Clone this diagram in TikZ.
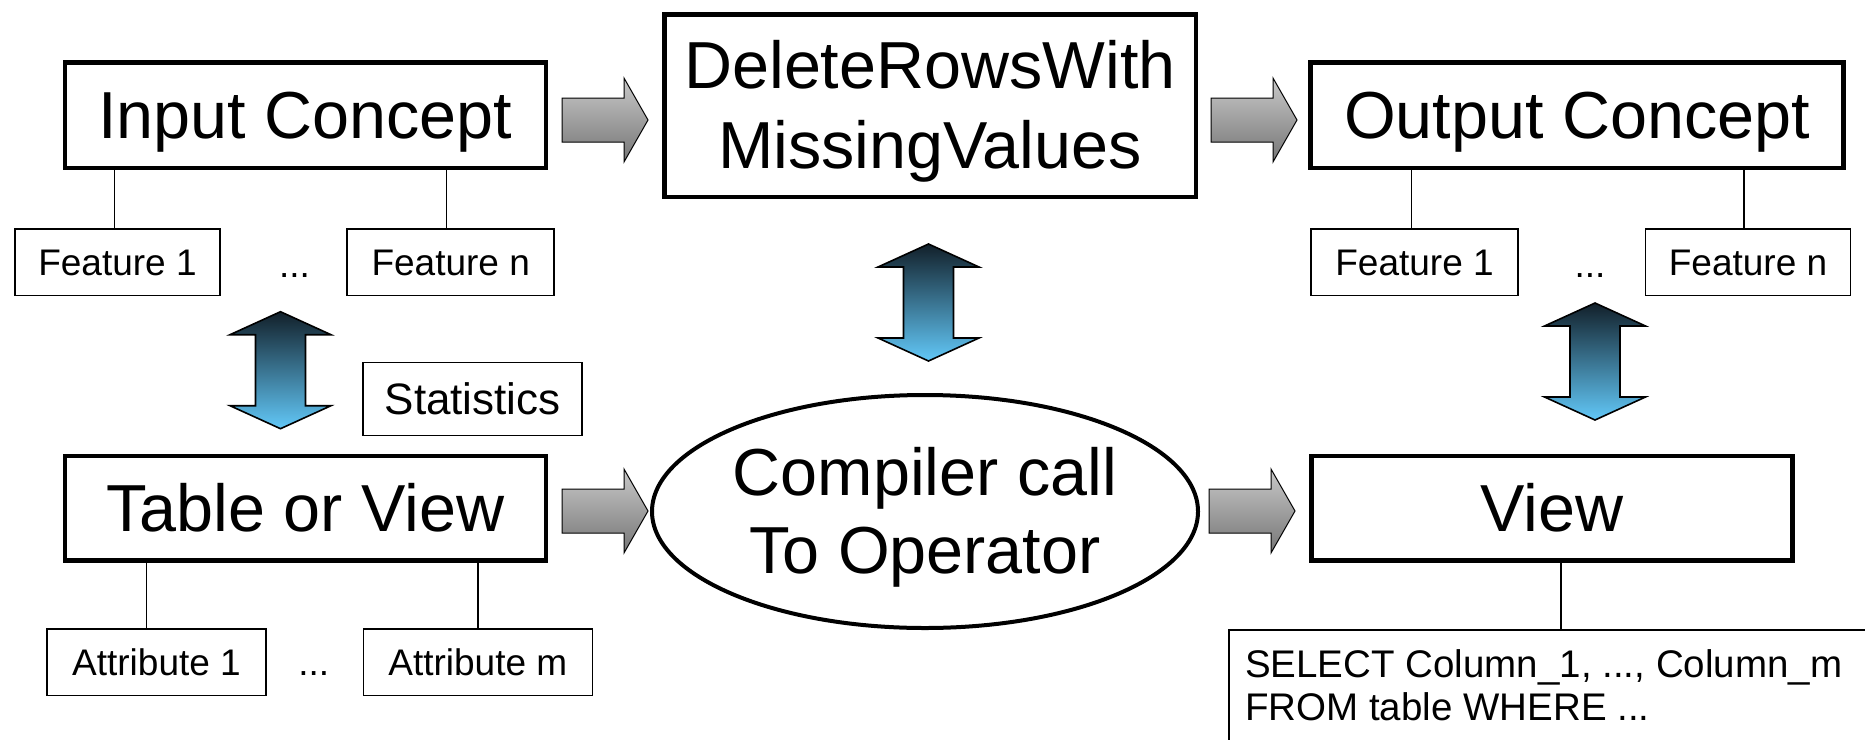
\documentclass[tikz,border=0pt]{standalone}
\usepackage{fontspec}
\setmainfont{Liberation Sans}
\usetikzlibrary{calc,shapes.geometric}

\definecolor{synctop}{RGB}{18,32,42}
\definecolor{syncbot}{RGB}{98,200,248}
\definecolor{flowtop}{RGB}{200,200,200}
\definecolor{flowbot}{RGB}{118,118,118}

\tikzset{
  mainbox/.style={draw, line width=4.5pt, inner sep=0pt, text height=47.5pt, text depth=0pt,
                  font=\fontsize{66.5}{78}\selectfont},
  subbox/.style={draw, line width=1.5pt, inner sep=0pt, minimum height=66.5pt,
                 text height=26.5pt, text depth=0pt, font=\fontsize{37}{44}\selectfont},
  bigtext/.style={inner sep=0pt, anchor=base, font=\fontsize{66.5}{78}\selectfont},
  dots/.style={inner sep=0pt, anchor=base, font=\fontsize{37}{44}\selectfont},
  seltext/.style={inner sep=0pt, anchor=base west, font=\fontsize{38.5}{46}\selectfont},
  link/.style={line width=1.5pt},
  flowarrow/.style={draw=black, line width=1pt, top color=flowtop, bottom color=flowbot},
  syncarrow/.style={draw=black, line width=1.6pt, top color=synctop, bottom color=syncbot},
}

% grey block arrow pointing right; #1 = centre of its tail
\newcommand\flowarrowat[1]{%
  \path[flowarrow] ($(#1)+(0,-22)$) -- ++(62,0) -- ++(0,-20) -- ++(24,42)
    -- ++(-24,42) -- ++(0,-20) -- ++(-62,0) -- cycle;}
% blue two-headed vertical block arrow; #1 = upper tip
\newcommand\syncarrowat[1]{%
  \path[syncarrow] (#1) -- ++(50.5,23) -- ++(-25.5,0) -- ++(0,71) -- ++(25.5,0)
    -- ++(-50.5,23) -- ++(-50.5,-23) -- ++(25.5,0) -- ++(0,-71) -- ++(-25.5,0) -- cycle;}

\begin{document}
\begin{tikzpicture}[x=1pt,y=-1pt]
\useasboundingbox (0,0) rectangle (1865,739);

% main concept / operator boxes
\node[mainbox, minimum width=481pt, minimum height=105.5pt] (ic) at (305.25,115) {Input Concept};
\node[mainbox, minimum width=531.5pt, minimum height=182.5pt] (dr) at (930,105.5) {};
\node[bigtext] (drA) at (930,88) {DeleteRowsWith};
\node[bigtext] (drB) at (930,168) {MissingValues};
\node[mainbox, minimum width=533pt, minimum height=105.5pt] (oc) at (1577,115) {Output Concept};

\node[mainbox, minimum width=481pt, minimum height=104.5pt] (tv) at (305.5,508) {Table or View};
\node[draw, ellipse, line width=4pt, minimum width=546pt, minimum height=233pt, inner sep=0pt] (cp) at (925,511.5) {};
\node[bigtext] (cpA) at (925,495) {Compiler call};
\node[bigtext] (cpB) at (925,573) {To Operator};
\node[mainbox, minimum width=481pt, minimum height=104.5pt] (vw) at (1552,508) {View};

% features of the concepts
\node[subbox, minimum width=205pt] (if1) at (117.5,262) {Feature 1};
\node[subbox, minimum width=207pt] (ifn) at (450.7,262) {Feature n};
\node[dots] (idots) at (294.5,277) {...};
\node[subbox, minimum width=207pt] (of1) at (1414.5,262) {Feature 1};
\node[subbox, minimum width=205pt] (ofn) at (1748,262) {Feature n};
\node[dots] (odots) at (1590,277) {...};

% attributes of the table
\node[subbox, minimum width=219pt] (at1) at (156.5,662) {Attribute 1};
\node[subbox, minimum width=229pt] (atm) at (477.8,662) {Attribute m};
\node[dots] (adots) at (313.8,675) {...};

\node[subbox, minimum width=219pt, minimum height=73pt, text height=31.5pt,
      font=\fontsize{44}{52}\selectfont] (st) at (472.7,399) {Statistics};

% SQL of the created view (runs off the page)
\begin{scope}
  \clip (0,0) rectangle (1865,739);
  \node[draw, line width=1.5pt, anchor=north west, minimum width=700pt, minimum height=200pt,
        inner sep=0pt] (sq) at (1228,629) {};
\end{scope}
\node[seltext] (sqA) at (1245,677) {SELECT Column\_1, ..., Column\_m};
\node[seltext] (sqB) at (1245,720) {FROM table WHERE ...};

% tree links
\draw[link] ([xshift=-3pt]if1.north) -- ([xshift=-3pt]if1.north |- ic.south);
\draw[link] ([xshift=-4pt]ifn.north) -- ([xshift=-4pt]ifn.north |- ic.south);
\draw[link] ([xshift=-3pt]of1.north) -- ([xshift=-3pt]of1.north |- oc.south);
\draw[link] ([xshift=-4pt]ofn.north) -- ([xshift=-4pt]ofn.north |- oc.south);
\draw[link] ([xshift=-10pt]at1.north) -- ([xshift=-10pt]at1.north |- tv.south);
\draw[link] (atm.north) -- (atm.north |- tv.south);
\draw[link] ([xshift=9pt]vw.south) -- ([xshift=9pt]vw.south |- sq.north);

% flow arrows
\coordinate (g1) at (562,120);
\coordinate (g2) at (1211,120);
\coordinate (g3) at (562,511);
\coordinate (g4) at (1209,511);
\flowarrowat{g1}
\flowarrowat{g2}
\flowarrowat{g3}
\flowarrowat{g4}

% mapping arrows
\coordinate (s1) at (280.5,311.7);
\coordinate (s2) at (928.5,244);
\coordinate (s3) at (1595,303);
\syncarrowat{s1}
\syncarrowat{s2}
\syncarrowat{s3}
\end{tikzpicture}
\end{document}
